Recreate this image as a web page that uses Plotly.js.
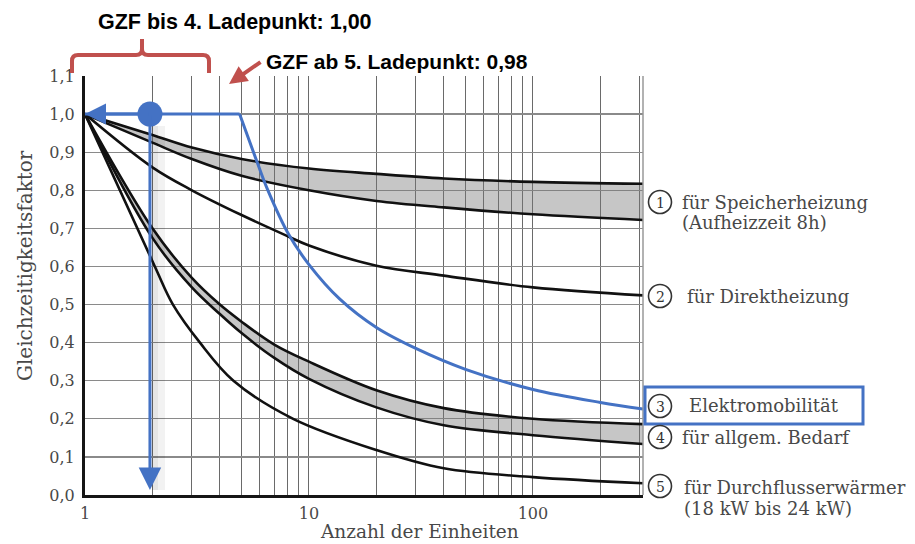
<!DOCTYPE html>
<html>
<head>
<meta charset="utf-8">
<script src="https://cdn.plot.ly/plotly-3.0.1.min.js"></script>
<style>html,body{margin:0;padding:0;background:#fff;}#chart{width:915px;height:544px;}</style>
</head>
<body>
<div id="chart"></div>
<script>
// ---------- data ----------
const xBand1 = [1, 2, 3, 5, 10, 20, 40, 100, 310];
const band1Upper = [1.0, 0.945, 0.912, 0.882, 0.857, 0.843, 0.831, 0.822, 0.817];
const band1Lower = [1.0, 0.925, 0.882, 0.838, 0.80, 0.772, 0.755, 0.737, 0.722];

const xDirect = [1, 2, 3, 5, 8, 10, 20, 40, 100, 310];
const direct = [1.0, 0.86, 0.80, 0.735, 0.68, 0.655, 0.602, 0.576, 0.545, 0.524];

const xEmob = [1, 4.9, 5.9, 6.5, 8.1, 10, 13.7, 20, 30, 50, 100, 200, 310];
const emob = [1.0, 1.0, 0.87, 0.805, 0.685, 0.605, 0.515, 0.44, 0.385, 0.33, 0.277, 0.243, 0.226];

const xBand4 = [1, 2, 3, 4, 5, 7, 10, 20, 40, 100, 310];
const band4Upper = [1.0, 0.70, 0.57, 0.50, 0.455, 0.395, 0.35, 0.275, 0.228, 0.20, 0.186];
const band4Lower = [1.0, 0.675, 0.545, 0.475, 0.425, 0.36, 0.305, 0.23, 0.183, 0.157, 0.134];

const xFlow = [1, 2.05, 2.47, 3.26, 4.6, 8.5, 20, 40, 100, 310];
const flowHeater = [1.0, 0.60, 0.50, 0.40, 0.30, 0.20, 0.118, 0.07, 0.047, 0.031];

const pointX = [1.95];
const pointY = [1.0];

const xTickVals = [1,2,3,4,5,6,7,8,9,10,20,30,40,50,60,70,80,90,100,200,300];
const xTickText = xTickVals.map(v => (v === 1 || v === 10 || v === 100) ? String(v) : '');
const yTickVals = [0,0.1,0.2,0.3,0.4,0.5,0.6,0.7,0.8,0.9,1.0,1.1];

const topNote1 = 'GZF bis 4. Ladepunkt: 1,00';
const topNote2 = 'GZF ab 5. Ladepunkt: 0,98';
const xTitle = 'Anzahl der Einheiten';
const yTitle = 'Gleichzeitigkeitsfaktor';
const legendItems = [
  {n:'1', lines:['für Speicherheizung', '(Aufheizzeit 8h)']},
  {n:'2', lines:['für Direktheizung']},
  {n:'3', lines:['Elektromobilität']},
  {n:'4', lines:['für allgem. Bedarf']},
  {n:'5', lines:['für Durchflusserwärmer', '(18 kW bis 24 kW)']}
];

// ---------- layout helpers ----------
const W = 915, H = 544;
const L = 85, R = 643, T = 76, B = 495;
const px = x => (x - L) / (R - L);
const py = y => (B - y) / (B - T);
const P = (x, y) => px(x).toFixed(5) + ',' + py(y).toFixed(5);

const BLUE = '#4472c4';
const RED = '#c0504d';
const TXT = '#484848';
const SERIF = 'DejaVu Serif, Liberation Serif, serif';
const SANS = 'Liberation Sans, Arial, sans-serif';
const FILL = 'rgba(120,120,120,0.42)';

const blackLine = {color:'#111', width:2.6, shape:'spline', smoothing:1};
const blueLine = {color:BLUE, width:3, shape:'spline', smoothing:1};

// split the e-mobility curve into its flat part and the falling part
const cornerIdx = 1;
const traces = [
  {x:xBand1, y:band1Lower, mode:'lines', line:blackLine, hoverinfo:'skip'},
  {x:xBand1, y:band1Upper, mode:'lines', line:blackLine, fill:'tonexty', fillcolor:FILL, hoverinfo:'skip'},
  {x:xDirect, y:direct, mode:'lines', line:blackLine, hoverinfo:'skip'},
  {x:xBand4, y:band4Lower, mode:'lines', line:blackLine, hoverinfo:'skip'},
  {x:xBand4, y:band4Upper, mode:'lines', line:blackLine, fill:'tonexty', fillcolor:FILL, hoverinfo:'skip'},
  {x:xFlow, y:flowHeater, mode:'lines', line:blackLine, hoverinfo:'skip'},
  {x:xEmob.slice(0, cornerIdx + 1), y:emob.slice(0, cornerIdx + 1), mode:'lines', line:{color:BLUE, width:3}, hoverinfo:'skip'},
  {x:xEmob.slice(cornerIdx), y:emob.slice(cornerIdx), mode:'lines', line:blueLine, hoverinfo:'skip'},
  {x:pointX, y:pointY, mode:'markers', marker:{size:25, color:BLUE}, hoverinfo:'skip'}
];

const shapes = [
  // right border line
  {type:'line', xref:'paper', yref:'paper', x0:1, x1:1, y0:0, y1:1, line:{color:'#999', width:1.5}},
  // shadow of vertical arrow
  {type:'rect', xref:'paper', yref:'paper', x0:px(152), x1:px(158), y0:py(490), y1:py(126), fillcolor:'rgba(0,0,0,0.10)', line:{width:0}},
  {type:'rect', xref:'paper', yref:'paper', x0:px(158), x1:px(165), y0:py(490), y1:py(126), fillcolor:'rgba(0,0,0,0.05)', line:{width:0}},
  // red bracket
  {type:'path', xref:'paper', yref:'paper', line:{color:RED, width:4},
   path:'M'+P(72,73)+' L'+P(72,61)+' Q'+P(72,55)+' '+P(78,55)+' L'+P(136,55)+' Q'+P(142,55)+' '+P(142,49)+' L'+P(142,39)+
        ' M'+P(142,49)+' Q'+P(142,55)+' '+P(148,55)+' L'+P(203,55)+' Q'+P(209,55)+' '+P(209,61)+' L'+P(209,73)},
  // blue box around Elektromobilität
  {type:'rect', xref:'paper', yref:'paper', x0:px(645), x1:px(863), y0:py(424), y1:py(387), line:{color:BLUE, width:3}}
];

const annotations = [
  {xref:'paper', yref:'paper', x:px(96), y:py(22), xanchor:'left', yanchor:'middle', showarrow:false,
   text:'<b>'+topNote1+'</b>', font:{family:SANS, size:21.5, color:'#000'}},
  {xref:'paper', yref:'paper', x:px(264), y:py(62), xanchor:'left', yanchor:'middle', showarrow:false,
   text:'<b>'+topNote2+'</b>', font:{family:SANS, size:21, color:'#000'}},
  // red arrow
  {xref:'paper', yref:'paper', x:px(229), y:py(84), ax:33, ay:-23, text:'', showarrow:true,
   arrowcolor:RED, arrowwidth:4, arrowhead:2, arrowsize:0.9, standoff:0},
  // blue horizontal arrow to y-axis
  {xref:'x', yref:'y', x:0, y:1.0, axref:'x', ayref:'y', ax:Math.log10(pointX[0]), ay:pointY[0], text:'', showarrow:true,
   arrowcolor:BLUE, arrowwidth:3, arrowhead:2, arrowsize:1.4, standoff:0},
  // blue vertical arrow to x-axis
  {xref:'x', yref:'y', x:Math.log10(pointX[0]), y:0.013, axref:'x', ayref:'y', ax:Math.log10(pointX[0]), ay:pointY[0], text:'', showarrow:true,
   arrowcolor:BLUE, arrowwidth:3, arrowhead:2, arrowsize:1.5, standoff:0},
  // axis titles
  {xref:'paper', yref:'paper', x:px(420), y:py(531), xanchor:'center', yanchor:'middle', showarrow:false,
   text:xTitle, font:{family:SERIF, size:18.5, color:TXT}},
  {xref:'paper', yref:'paper', x:px(25), y:py(266), xanchor:'center', yanchor:'middle', showarrow:false, textangle:-90,
   text:yTitle, font:{family:SERIF, size:20, color:TXT}}
];

// legend labels with circled numbers
const legendPos = [
  {cy:202, tx:680, ty:[202, 223]},
  {cy:296, tx:685, ty:[296]},
  {cy:406, tx:687, ty:[405]},
  {cy:437, tx:680, ty:[437]},
  {cy:486, tx:682, ty:[487, 508]}
];
legendItems.forEach((item, i) => {
  const pos = legendPos[i];
  shapes.push({type:'circle', xref:'paper', yref:'paper', x0:px(660-11.5), x1:px(660+11.5), y0:py(pos.cy+11.5), y1:py(pos.cy-11.5),
    line:{color:'#333', width:1.6}, fillcolor:'rgba(0,0,0,0)'});
  annotations.push({xref:'paper', yref:'paper', x:px(660), y:py(pos.cy+0.5), xanchor:'center', yanchor:'middle', showarrow:false,
    text:item.n, font:{family:SERIF, size:14, color:'#333'}});
  item.lines.forEach((t, j) => {
    annotations.push({xref:'paper', yref:'paper', x:px(pos.tx), y:py(pos.ty[j]), xanchor:'left', yanchor:'middle', showarrow:false,
      text:t, font:{family:SERIF, size:18, color:TXT}});
  });
});

const layout = {
  width:W, height:H,
  margin:{l:L, r:W-R, t:T, b:H-B, pad:0},
  paper_bgcolor:'#fff', plot_bgcolor:'#fff',
  showlegend:false,
  separators:',.',
  xaxis:{type:'log', range:[0, Math.log10(310)], tickmode:'array', tickvals:xTickVals, ticktext:xTickText,
    showgrid:true, gridcolor:'#6a6a6a', gridwidth:1, zeroline:false,
    showline:true, linecolor:'#151515', linewidth:3, ticks:'', ticklabelstandoff:2,
    tickfont:{family:SERIF, size:16, color:TXT}, fixedrange:true},
  yaxis:{range:[0, 1.1], tickmode:'array', tickvals:yTickVals, tickformat:'.1f',
    showgrid:true, gridcolor:'#8a8a8a', gridwidth:1.2, zeroline:false,
    showline:true, linecolor:'#151515', linewidth:3, ticks:'', ticklabelstandoff:4,
    tickfont:{family:SERIF, size:16, color:TXT}, fixedrange:true},
  shapes:shapes,
  annotations:annotations
};

Plotly.newPlot('chart', traces, layout, {displayModeBar:false, staticPlot:true});
</script>
</body>
</html>
